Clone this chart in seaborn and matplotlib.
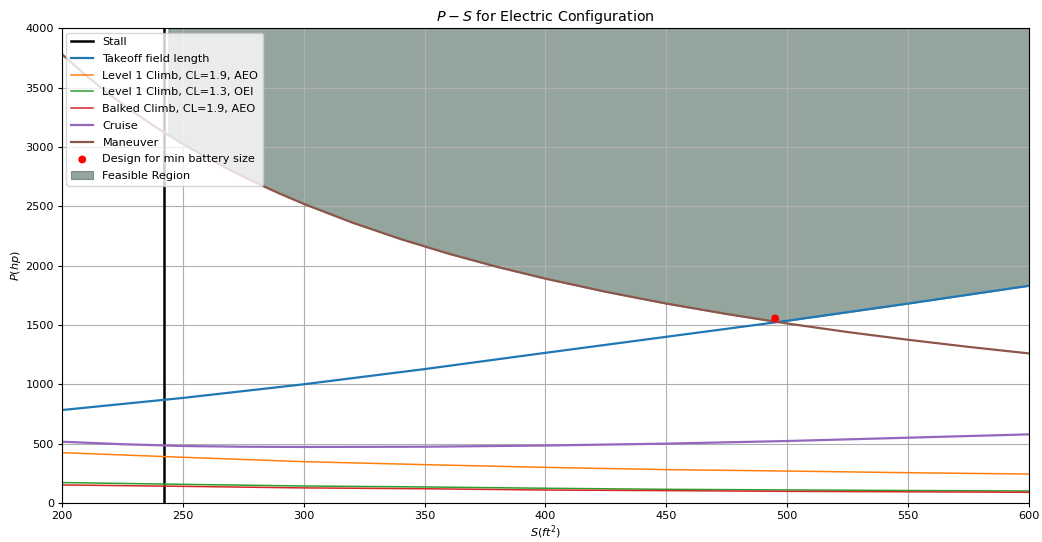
import numpy as np
import matplotlib
matplotlib.use("Agg")
import matplotlib.pyplot as plt
import seaborn as sns

# ---- data ----
S_stall = 242.0
feasible_start = 244.0

S_man = [200, 210, 220, 230, 240, 250, 260, 270, 280, 290, 300, 320, 340, 360, 380, 400,
         425, 450, 475, 500, 525, 550, 575, 600]
P_maneuver = [3780, 3600, 3436, 3287, 3150, 3024, 2908, 2800, 2700, 2607, 2520, 2363, 2224, 2100,
              1989, 1890, 1779, 1680, 1592, 1512, 1440, 1375, 1315, 1260]

S_pts = [200, 250, 300, 350, 400, 450, 500, 550, 600]
P_takeoff = [783, 885, 1000, 1128, 1265, 1400, 1535, 1680, 1830]
P_climb_aeo = [424, 385, 348, 323, 300, 281, 269, 255, 244]
P_climb_oei = [172, 157, 143, 135, 124, 115, 110, 105, 101]
P_balked = [152, 140, 127, 120, 109, 104, 98, 94, 90]

S_cru = [200, 225, 250, 275, 300, 350, 400, 450, 500, 550, 600]
P_cruise = [516, 495, 480, 474, 472, 474, 484, 500, 522, 550, 578]

design_S = [495]
design_P = [1555]

P_top = 4000

plt.rcParams["font.size"] = 8.1
plt.rcParams["xtick.major.pad"] = 2.8
plt.rcParams["ytick.major.pad"] = 2.8
plt.rcParams["xtick.major.size"] = 3.0
plt.rcParams["ytick.major.size"] = 3.0
fig = plt.figure(figsize=(10.42, 5.42), dpi=100)
ax = fig.add_axes([0.0595, 0.072, 0.928, 0.876])

ax.axvline(S_stall, color="black", lw=1.8, label="Stall")
sns.lineplot(x=S_pts, y=P_takeoff, color="#1f77b4", lw=1.6, label="Takeoff field length", ax=ax)
sns.lineplot(x=S_pts, y=P_climb_aeo, color="#ff7f0e", lw=1.1, label="Level 1 Climb, CL=1.9, AEO", ax=ax)
sns.lineplot(x=S_pts, y=P_climb_oei, color="#2ca02c", lw=1.1, label="Level 1 Climb, CL=1.3, OEI", ax=ax)
sns.lineplot(x=S_pts, y=P_balked, color="#d62728", lw=1.1, label="Balked Climb, CL=1.9, AEO", ax=ax)
sns.lineplot(x=S_cru, y=P_cruise, color="#9467bd", lw=1.6, label="Cruise", ax=ax)
sns.lineplot(x=S_man, y=P_maneuver, color="#8c564b", lw=1.6, label="Maneuver", ax=ax)
sns.scatterplot(x=design_S, y=design_P, color="red", s=32, edgecolor="none",
                label="Design for min battery size", ax=ax, zorder=4)

Sf = np.linspace(feasible_start, 600, 400)
lower = np.maximum(np.interp(Sf, S_man, P_maneuver), np.interp(Sf, S_pts, P_takeoff))
ax.fill_between(Sf, lower, P_top, facecolor="#2b4d3f", edgecolor="#2b4d3f", alpha=0.5,
                label="Feasible Region", zorder=1, linewidth=0.8)

ax.set_xlim(200, 600)
ax.set_ylim(0, 4000)
ax.set_xticks(np.arange(200, 601, 50))
ax.set_yticks(np.arange(0, 4001, 500))
ax.grid(True, color="#b0b0b0", lw=0.8)
ax.set_title("$P-S$ for Electric Configuration", fontsize=10.3, pad=5)
ax.set_xlabel("$S(ft^2)$", labelpad=2)
ax.set_ylabel("$P(hp)$", labelpad=2)
ax.legend(loc="upper left", fontsize=8.1, labelspacing=0.6, borderaxespad=0.4)

fig.savefig("out.png", dpi=100)
